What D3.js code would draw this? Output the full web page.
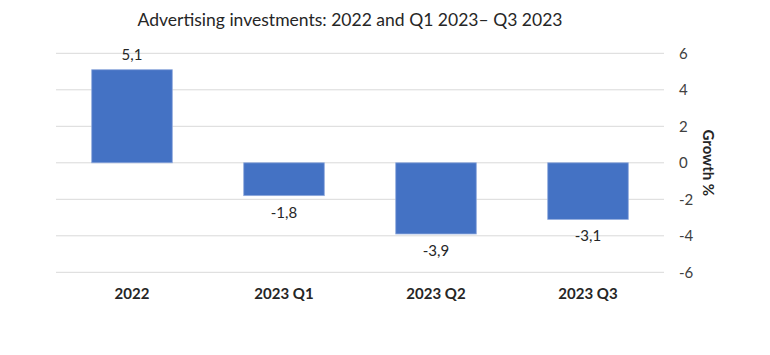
<!DOCTYPE html>
<html>
<head>
<meta charset="utf-8">
<script src="https://cdn.jsdelivr.net/npm/d3@7"></script>
<style>
  body { margin: 0; background: #fff; }
  text { font-family: "Lato", "Open Sans", sans-serif; }
</style>
</head>
<body>
<svg id="chart" width="770" height="355"></svg>
<script>
const categories = ["2022", "2023 Q1", "2023 Q2", "2023 Q3"];
const growth = [5.1, -1.8, -3.9, -3.1];
const valueLabels = ["5,1", "-1,8", "-3,9", "-3,1"];
const yTicks = [-6, -4, -2, 0, 2, 4, 6];
const title = "Advertising investments: 2022 and Q1 2023\u2013 Q3 2023";
const yTitle = "Growth %";

(function () {
const svg = d3.select("#chart");
const plotLeft = 56, plotRight = 664, plotTop = 53.3, plotBottom = 272.3;

const x = d3.scaleBand().domain(categories).range([plotLeft, plotRight]).paddingInner(0.47).paddingOuter(0.235);
const y = d3.scaleLinear().domain([-6, 6]).range([plotBottom, plotTop]);

// gridlines
svg.append("g").selectAll("line").data(yTicks).join("line")
  .attr("x1", plotLeft).attr("x2", plotRight)
  .attr("y1", d => y(d)).attr("y2", d => y(d))
  .attr("stroke", "#d9d9d9").attr("stroke-width", 1);

// right axis tick labels
const axis = d3.axisRight(y).tickValues(yTicks).tickSize(0).tickPadding(0)
  .tickFormat(d => d < 0 ? "-" + Math.abs(d) : String(d));
const ag = svg.append("g").attr("transform", `translate(${plotRight + 15},0)`).call(axis);
ag.select(".domain").remove();
ag.selectAll("text").attr("font-size", 15).attr("fill", "#404040").attr("font-family", "Lato, sans-serif");

// bars
svg.append("g").selectAll("rect").data(growth).join("rect")
  .attr("x", (d, i) => x(categories[i]))
  .attr("width", x.bandwidth())
  .attr("y", d => y(Math.max(0, d)))
  .attr("height", d => Math.abs(y(d) - y(0)))
  .attr("fill", "#4472c4")
  .attr("stroke", "#8fa9dc").attr("stroke-width", 0.8);

// value labels
svg.append("g").selectAll("text").data(growth).join("text")
  .attr("x", (d, i) => x(categories[i]) + x.bandwidth() / 2)
  .attr("y", d => d >= 0 ? y(d) - 10 : y(d) + 22)
  .attr("text-anchor", "middle")
  .attr("font-size", 15).attr("fill", "#262626")
  .text((d, i) => valueLabels[i]);

// category labels
svg.append("g").selectAll("text").data(categories).join("text")
  .attr("x", d => x(d) + x.bandwidth() / 2)
  .attr("y", 299)
  .attr("text-anchor", "middle")
  .attr("font-size", 15).attr("font-weight", "bold").attr("fill", "#262626")
  .text(d => d);

// title
svg.append("text")
  .attr("x", 350).attr("y", 26)
  .attr("text-anchor", "middle")
  .attr("font-size", 18).attr("fill", "#262626")
  .attr("textLength", 425).attr("lengthAdjust", "spacingAndGlyphs")
  .text(title);

// y axis title
svg.append("text")
  .attr("transform", `translate(703,${y(0)}) rotate(90)`)
  .attr("text-anchor", "middle")
  .attr("font-size", 15).attr("font-weight", "bold").attr("fill", "#262626")
  .text(yTitle);
})();
</script>
</body>
</html>
